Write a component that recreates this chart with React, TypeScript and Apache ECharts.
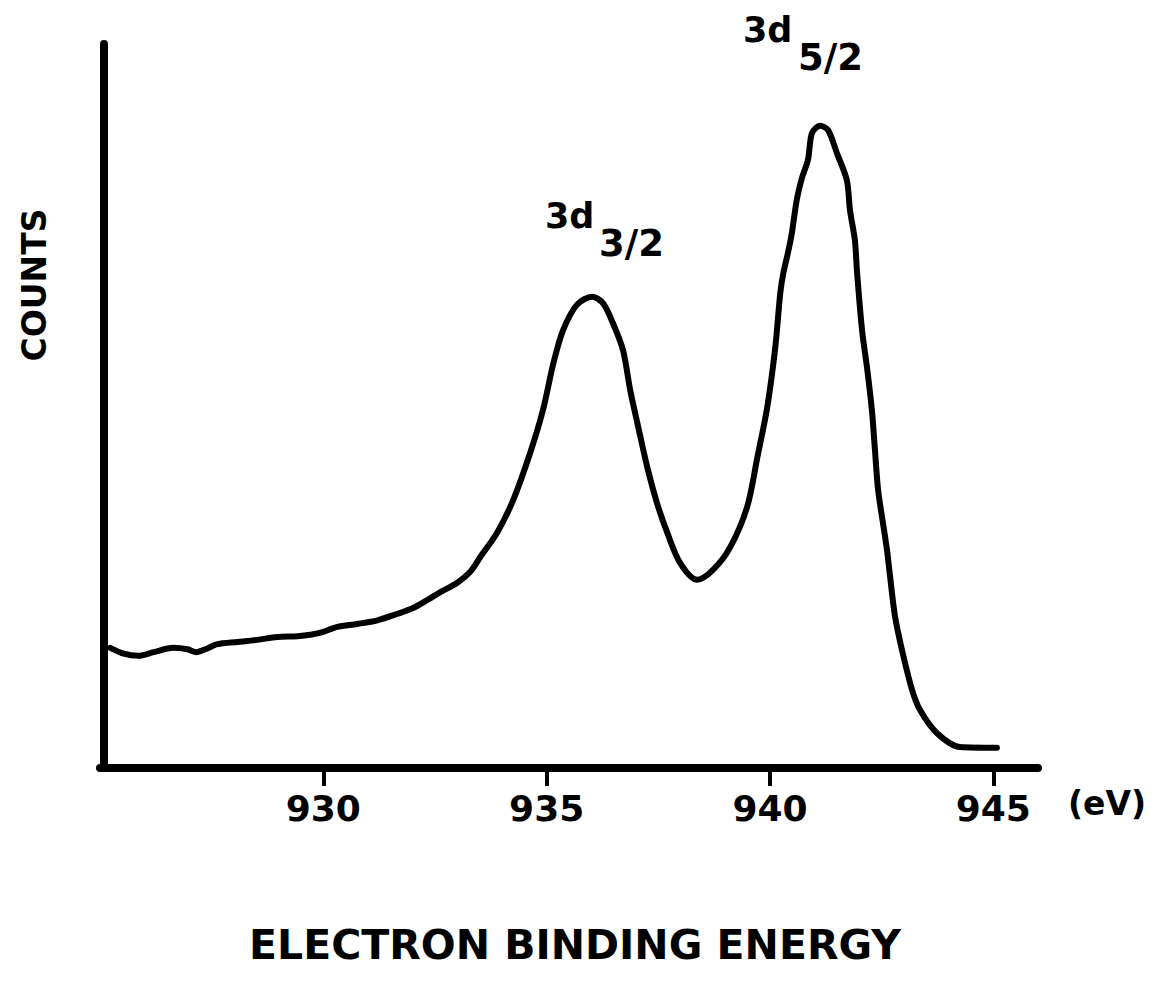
import React, { useEffect, useRef } from "react";
import * as echarts from "echarts";

// Binding energy (eV) and counts (arbitrary units, 0-100 scale)
const energy = [
  925.23, 925.53, 925.86, 926.2, 926.64, 926.96, 927.16, 927.36, 927.63, 928.08,
  928.52, 928.97, 929.42, 929.71, 930.0, 930.31, 930.76, 931.21, 931.66, 932.01,
  932.33, 932.62, 933.0, 933.29, 933.51, 933.89, 934.25, 934.63, 934.92, 935.15,
  935.37, 935.68, 936.02, 936.26, 936.48, 936.71, 936.87, 937.05, 937.25, 937.47,
  937.7, 937.99, 938.37, 938.73, 939.11, 939.49, 939.72, 939.94, 940.12, 940.23,
  940.3, 940.4, 940.49, 940.6, 940.72, 940.85, 940.94, 941.12, 941.3, 941.5,
  941.72, 941.79, 941.9, 941.95, 942.06, 942.17, 942.28, 942.35, 942.42, 942.53,
  942.62, 942.68, 942.8, 942.97, 943.18, 943.36, 943.74, 944.25, 945.08,
];
const counts = [
  16.6, 15.8, 15.5, 16.0, 16.6, 16.4, 16.0, 16.4, 17.1, 17.4,
  17.7, 18.1, 18.2, 18.4, 18.8, 19.5, 19.9, 20.4, 21.3, 22.1,
  23.2, 24.3, 25.6, 27.1, 29.1, 32.5, 37.0, 43.5, 49.5, 55.9,
  60.5, 64.0, 65.1, 64.2, 61.5, 57.7, 52.2, 47.1, 41.6, 36.6,
  32.5, 28.3, 26.0, 27.4, 30.5, 36.1, 43.0, 49.9, 58.2, 65.6,
  68.4, 71.1, 73.9, 78.5, 81.6, 84.0, 87.7, 88.7, 88.1, 84.9,
  81.2, 77.1, 72.9, 68.4, 60.5, 55.4, 49.5, 43.9, 38.4, 33.8,
  30.1, 26.9, 20.9, 15.9, 10.8, 8.0, 4.8, 2.9, 2.8,
];
const tickValues = [930, 935, 940, 945];
const peakLabels = [
  { main: "3d", sub: "3/2" },
  { main: "3d", sub: "5/2" },
];
const unitLabel = "(eV)";
const xTitle = "ELECTRON BINDING ENERGY";
const yTitle = "COUNTS";

const FONT = "DejaVu Sans";

export default function App() {
  const ref = useRef<HTMLDivElement>(null);
  useEffect(() => {
    document.body.style.margin = "0";
    const chart = echarts.init(ref.current!, null, { renderer: "svg" });
    const textStyle = (size: number) => ({
      fontFamily: FONT,
      fontWeight: "bold",
      fontSize: size,
      fill: "#000",
    });
    chart.setOption({
      animation: false,
      backgroundColor: "#fff",
      grid: { left: 100, right: 116, top: 44, bottom: 231 },
      xAxis: {
        type: "value",
        min: 925,
        max: 946,
        axisLine: { show: true, lineStyle: { color: "#000", width: 8 } },
        axisTick: {
          show: true,
          customValues: tickValues,
          length: 18,
          lineStyle: { color: "#000", width: 4 },
        },
        axisLabel: {
          customValues: tickValues,
          margin: 22,
          fontSize: 36,
          fontWeight: "bold",
          fontFamily: FONT,
          color: "#000",
        },
        splitLine: { show: false },
      },
      yAxis: {
        type: "value",
        min: 0,
        max: 100,
        offset: -4,
        axisLine: { show: true, lineStyle: { color: "#000", width: 8 } },
        axisTick: { show: false },
        axisLabel: { show: false },
        splitLine: { show: false },
      },
      series: [
        {
          type: "line",
          data: energy.map((e, i) => [e, counts[i]]),
          symbol: "none",
          smooth: 0.3,
          lineStyle: { color: "#000", width: 6, cap: "round", join: "round" },
        },
      ],
      graphic: [
        {
          type: "text",
          x: 34,
          y: 285,
          rotation: Math.PI / 2,
          style: { ...textStyle(33), text: yTitle, align: "center", verticalAlign: "middle" },
        },
        {
          type: "text",
          x: 1068,
          y: 803,
          style: { ...textStyle(33), text: unitLabel, align: "left", verticalAlign: "middle" },
        },
        {
          type: "text",
          x: 575,
          y: 945,
          style: { ...textStyle(41), text: xTitle, align: "center", verticalAlign: "middle" },
        },
        {
          type: "text",
          x: 545,
          y: 216,
          style: { ...textStyle(35), text: peakLabels[0].main, align: "left", verticalAlign: "middle" },
        },
        {
          type: "text",
          x: 599,
          y: 243,
          style: { ...textStyle(37), text: peakLabels[0].sub, align: "left", verticalAlign: "middle" },
        },
        {
          type: "text",
          x: 743,
          y: 30,
          style: { ...textStyle(35), text: peakLabels[1].main, align: "left", verticalAlign: "middle" },
        },
        {
          type: "text",
          x: 798,
          y: 57,
          style: { ...textStyle(37), text: peakLabels[1].sub, align: "left", verticalAlign: "middle" },
        },
      ],
    });
    return () => chart.dispose();
  }, []);
  return <div ref={ref} style={{ width: 1154, height: 999 }} />;
}
